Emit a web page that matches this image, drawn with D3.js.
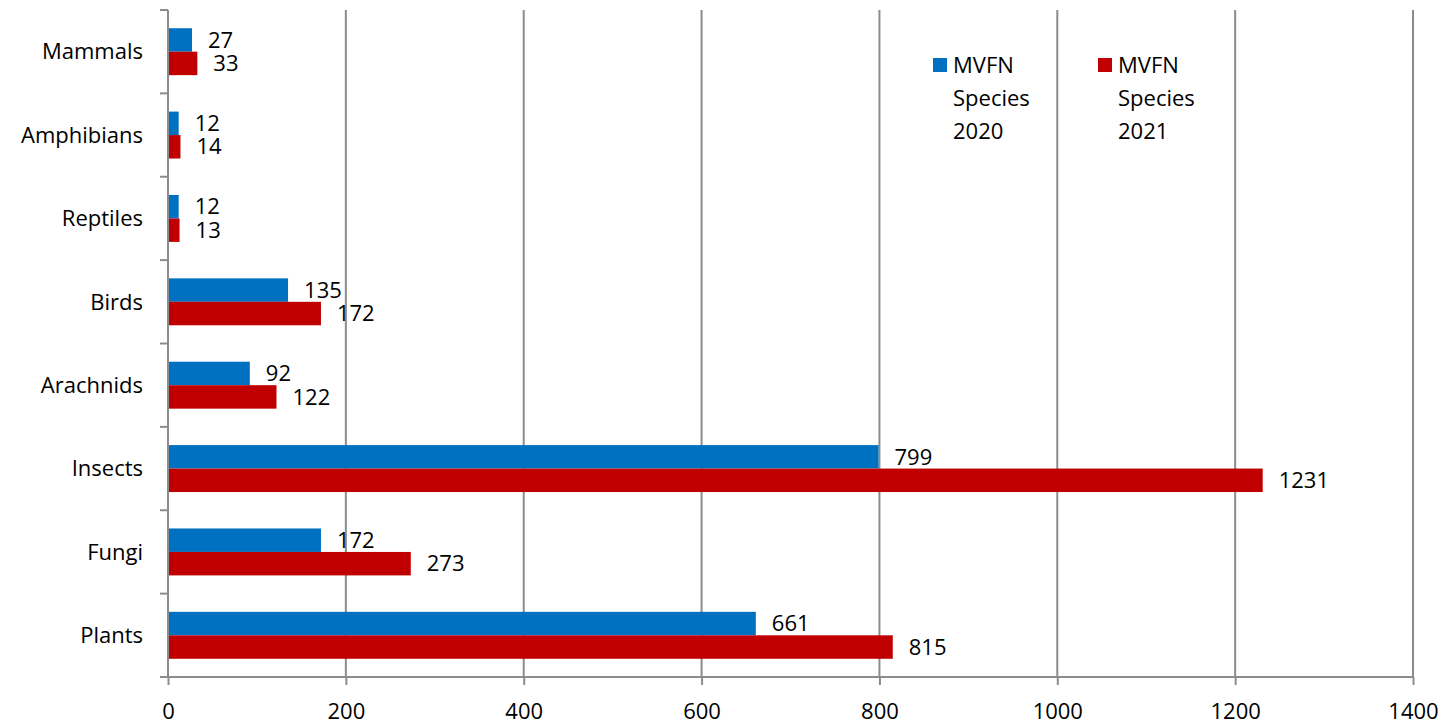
<!DOCTYPE html>
<html>
<head>
<meta charset="utf-8">
<script src="https://cdn.jsdelivr.net/npm/d3@7"></script>
<style>
  body { margin: 0; background: #fff; }
  svg text { font-family: "Open Sans", "Liberation Sans", sans-serif; fill: #000; }
</style>
</head>
<body>
<svg id="chart" width="1445" height="723"></svg>
<script>
var categories = ["Mammals", "Amphibians", "Reptiles", "Birds", "Arachnids", "Insects", "Fungi", "Plants"];
var series = ["MVFN Species 2020", "MVFN Species 2021"];
var values2020 = [27, 12, 12, 135, 92, 799, 172, 661];
var values2021 = [33, 14, 13, 172, 122, 1231, 273, 815];
var xTicks = [0, 200, 400, 600, 800, 1000, 1200, 1400];
var colors = ["#0070c0", "#c00000"];

var svg = d3.select("#chart"),
  plotLeft = 168, plotRight = 1413, plotTop = 10, plotBottom = 677;

var x = d3.scaleLinear().domain([0, 1400]).range([plotLeft, plotRight]);
var y = d3.scaleBand().domain(categories).range([plotTop, plotBottom])
  .paddingInner(0.437).paddingOuter(0.2185);
var sub = d3.scaleBand().domain([0, 1]).range([0, y.bandwidth()]);

// vertical gridlines
svg.append("g").selectAll("line")
  .data(xTicks.slice(1))
  .enter().append("line")
  .attr("x1", function(d) { return x(d); })
  .attr("x2", function(d) { return x(d); })
  .attr("y1", plotTop).attr("y2", plotBottom)
  .attr("stroke", "#8c8c8c").attr("stroke-width", 2);

// bars
var rows = categories.map(function(c, i) { return {cat: c, vals: [values2020[i], values2021[i]]}; });
var grp = svg.append("g").selectAll("g")
  .data(rows).enter().append("g")
  .attr("transform", function(d) { return "translate(0," + y(d.cat) + ")"; });

grp.selectAll("rect")
  .data(function(d) { return d.vals; })
  .enter().append("rect")
  .attr("x", x(0))
  .attr("y", function(d, i) { return sub(i); })
  .attr("width", function(d) { return x(d) - x(0); })
  .attr("height", sub.bandwidth())
  .attr("fill", function(d, i) { return colors[i]; });

grp.selectAll("text")
  .data(function(d) { return d.vals; })
  .enter().append("text")
  .attr("x", function(d) { return x(d) + 16; })
  .attr("y", function(d, i) { return sub(i) + sub.bandwidth() / 2; })
  .attr("dy", "0.35em")
  .style("font-size", "22px")
  .text(function(d) { return d; });

// x axis
var xAxis = svg.append("g")
  .attr("transform", "translate(0," + plotBottom + ")")
  .call(d3.axisBottom(x).tickValues(xTicks).tickFormat(d3.format("d"))
    .tickSize(8).tickPadding(18).tickSizeOuter(0));
xAxis.select(".domain").attr("stroke", "#8c8c8c").attr("stroke-width", 2)
  .attr("d", "M" + (plotLeft - 8) + ",0H" + plotRight);
xAxis.selectAll(".tick line").attr("stroke", "#8c8c8c").attr("stroke-width", 2);
xAxis.selectAll("text").style("font-size", "22px").attr("fill", "#000");

// y axis with ticks at band boundaries
svg.append("line")
  .attr("x1", plotLeft).attr("x2", plotLeft).attr("y1", plotTop).attr("y2", plotBottom)
  .attr("stroke", "#8c8c8c").attr("stroke-width", 2);
var bounds = categories.map(function(c) { return y(c) - y.step() * y.paddingInner() / 2; });
svg.append("g").selectAll("line")
  .data(bounds).enter().append("line")
  .attr("x1", plotLeft - 8).attr("x2", plotLeft)
  .attr("y1", function(d) { return d; }).attr("y2", function(d) { return d; })
  .attr("stroke", "#8c8c8c").attr("stroke-width", 2);
svg.append("g").selectAll("text")
  .data(categories).enter().append("text")
  .attr("x", plotLeft - 25)
  .attr("y", function(d) { return y(d) + y.bandwidth() / 2; })
  .attr("dy", "0.35em")
  .attr("text-anchor", "end")
  .style("font-size", "22px")
  .text(function(d) { return d; });

// legend
var legendX = [933, 1098];
var legend = svg.append("g").selectAll("g")
  .data(series).enter().append("g")
  .attr("transform", function(d, i) { return "translate(" + legendX[i] + ",58)"; });
legend.append("rect")
  .attr("width", 14).attr("height", 14)
  .attr("fill", function(d, i) { return colors[i]; });
legend.append("text")
  .style("font-size", "22px")
  .selectAll("tspan")
  .data(function(d) { return ["MVFN", "Species", d.slice(-4)]; })
  .enter().append("tspan")
  .attr("x", 20)
  .attr("y", function(d, i) { return 7 + i * 33; })
  .attr("dy", "0.35em")
  .text(function(d) { return d; });
</script>
</body>
</html>
